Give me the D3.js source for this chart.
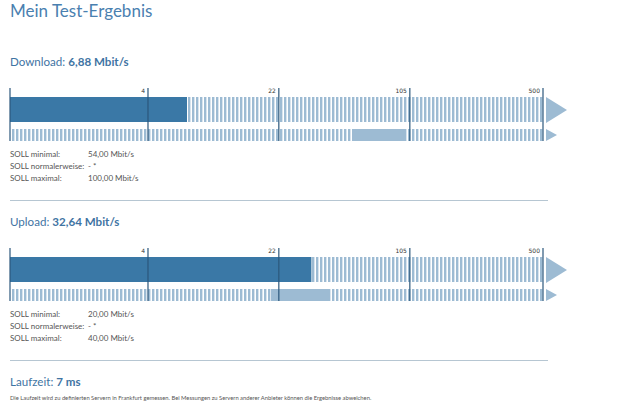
<!DOCTYPE html>
<html><head><meta charset="utf-8">
<script src="https://cdn.jsdelivr.net/npm/d3@7/dist/d3.min.js"></script>
<style>body{margin:0;background:#fff}svg{display:block}</style>
</head><body>
<script>
const tickValues = [0, 4, 22, 105, 500];
const tickLabels = ["", "4", "22", "105", "500"];
const metrics = ["Download", "Upload"];
const measured = [6.88, 32.64];
const measuredLabels = ["6,88 Mbit/s", "32,64 Mbit/s"];
const sollMin = [54, 20];
const sollMax = [100, 40];
const sollRowNames = ["SOLL minimal:", "SOLL normalerweise:", "SOLL maximal:"];
const sollDownload = ["54,00 Mbit/s", "- *", "100,00 Mbit/s"];
const sollUpload = ["20,00 Mbit/s", "- *", "40,00 Mbit/s"];
const latencyLabel = "7 ms";
const footnote = "Die Laufzeit wird zu definierten Servern in Frankfurt gemessen. Bei Messungen zu Servern anderer Anbieter können die Ergebnisse abweichen.";

const W = 620, H = 404;
const font = "Lato, 'Open Sans', sans-serif";
const cDark = "#3a78a6", cLight = "#9dbbd3", cTick = "#2c587c", cHead = "#3f74a3";

const svg = d3.select("body").append("svg").attr("width", W).attr("height", H);
const defs = svg.append("defs");
const pat = defs.append("pattern").attr("id", "stripes").attr("patternUnits", "userSpaceOnUse")
  .attr("width", 4).attr("height", 10).attr("x", 12);
pat.append("rect").attr("width", 2.4).attr("height", 10).attr("fill", cLight);

const x = d3.scaleSymlog().constant(1).domain([0, 500]).range([10, 543]);

svg.append("text").attr("x", 10).attr("y", 17).attr("font-family", font).attr("font-size", 17)
  .attr("fill", "#4a80b0").text("Mein Test-Ergebnis");

const sollTexts = [sollDownload, sollUpload];

metrics.forEach((m, i) => {
  const oy = i * 160;
  const g = svg.append("g").attr("transform", `translate(0,${oy})`);
  const head = g.append("text").attr("x", 10).attr("y", 66).attr("font-family", font)
    .attr("font-size", 11.6).attr("fill", cHead);
  head.append("tspan").text(m + ": ");
  head.append("tspan").attr("font-weight", "bold").text(measuredLabels[i]);

  // top bar
  g.append("rect").attr("x", x(0)).attr("y", 97).attr("width", x(500) - x(0)).attr("height", 25)
    .attr("fill", "url(#stripes)");
  g.append("rect").attr("x", x(0)).attr("y", 97).attr("width", x(measured[i]) - x(0)).attr("height", 25)
    .attr("fill", cDark);
  // bottom bar
  g.append("rect").attr("x", 12).attr("y", 129).attr("width", x(500) - 12).attr("height", 12)
    .attr("fill", "url(#stripes)");
  g.append("rect").attr("x", x(sollMin[i])).attr("y", 129).attr("width", x(sollMax[i]) - x(sollMin[i])).attr("height", 12)
    .attr("fill", cLight);

  // arrows
  const xe = x(500) + 3;
  g.append("path").attr("d", `M${xe},97L${xe + 21},110L${xe},123Z`).attr("fill", cLight);
  g.append("path").attr("d", `M${xe},129L${xe + 11},135L${xe},141Z`).attr("fill", cLight);

  // ticks
  tickValues.forEach((t, k) => {
    g.append("line").attr("x1", x(t)).attr("x2", x(t)).attr("y1", 88).attr("y2", 141)
      .attr("stroke", cTick).attr("stroke-width", 1.2);
    if (tickLabels[k]) {
      g.append("text").attr("x", x(t) - 3).attr("y", 93).attr("text-anchor", "end")
        .attr("font-family", "'DejaVu Sans', sans-serif").attr("font-size", 6).attr("fill", "#333")
        .text(tickLabels[k]);
    }
  });

  sollRowNames.forEach((n, r) => {
    g.append("text").attr("x", 10).attr("y", 157 + r * 12).attr("font-family", font)
      .attr("font-size", 8).attr("fill", "#555").text(n);
    g.append("text").attr("x", 88).attr("y", 157 + r * 12).attr("font-family", font)
      .attr("font-size", 8).attr("fill", "#555").text(sollTexts[i][r]);
  });

  g.append("line").attr("x1", 10).attr("x2", 548).attr("y1", 200.5).attr("y2", 200.5)
    .attr("stroke", "#b6c6d2").attr("stroke-width", 1);
});

const lt = svg.append("text").attr("x", 10).attr("y", 386).attr("font-family", font)
  .attr("font-size", 11.6).attr("fill", cHead);
lt.append("tspan").text("Laufzeit: ");
lt.append("tspan").attr("font-weight", "bold").text(latencyLabel);

svg.append("text").attr("x", 10).attr("y", 400).attr("font-family", font)
  .attr("font-size", 5.8).attr("fill", "#555").text(footnote);
</script>
</body></html>
